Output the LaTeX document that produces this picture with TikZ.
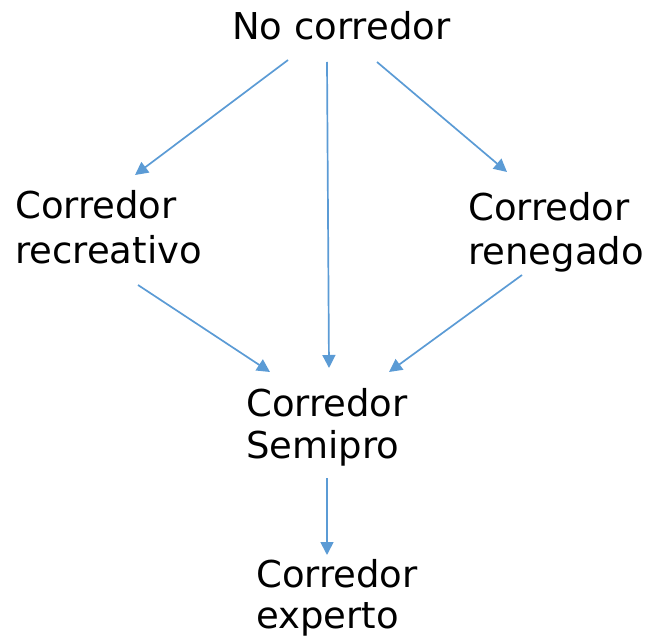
\documentclass[tikz,border=0pt]{standalone}
\usepackage{fontspec}
\setmainfont{DejaVu Sans}
\usetikzlibrary{arrows.meta,calc}
\definecolor{flow}{RGB}{91,155,213}
\tikzset{
  label text/.style={inner sep=0pt, anchor=base west, align=left,
    font=\fontsize{37}{43}\selectfont, text=black},
  flow arrow/.style={draw=flow, line width=1.7pt,
    -{Triangle[length=13pt,width=13pt]}}
}
\begin{document}
\begin{tikzpicture}[x=1pt,y=-1pt]
  \useasboundingbox (0,0) rectangle (647,639);
  % base west = baseline of the last line
  \node[label text] (top)  at (232,40)  {No corredor};
  \node[label text, font=\fontsize{37}{45}\selectfont] (rec)  at (15,263)  {Corredor\\recreativo};
  \node[label text, font=\fontsize{37}{44}\selectfont] (ren)  at (468,264) {Corredor\\renegado};
  \node[label text, font=\fontsize{37}{42}\selectfont] (semi) at (246,458) {Corredor\\Semipro};
  \node[label text, font=\fontsize{37}{41}\selectfont] (exp)  at (256,628) {Corredor\\experto};

  \draw[flow arrow] ($(top.base west)+(56,20)$)   -- ($(rec.base west)+(120,-88)$);
  \draw[flow arrow] ($(top.base west)+(95,22)$)   -- ($(semi.base west)+(83,-90)$);
  \draw[flow arrow] ($(top.base west)+(145,22)$)  -- ($(ren.base west)+(39,-92)$);
  \draw[flow arrow] ($(rec.base west)+(123,22)$)  -- ($(semi.base west)+(24,-86)$);
  \draw[flow arrow] ($(ren.base west)+(54,11)$)   -- ($(semi.base west)+(143,-86)$);
  \draw[flow arrow] ($(semi.base west)+(81,20)$)  -- ($(exp.base west)+(71,-73)$);
\end{tikzpicture}
\end{document}
